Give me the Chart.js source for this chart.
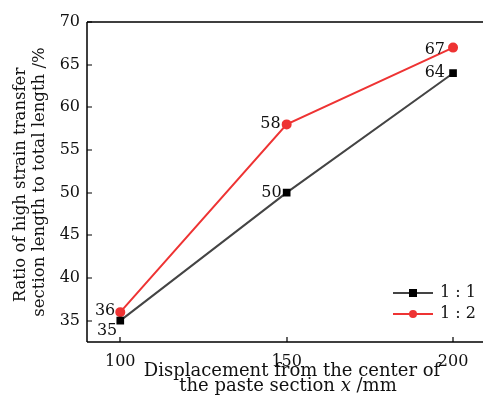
<!DOCTYPE html>
<html><head><meta charset="utf-8">
<script src="https://cdn.jsdelivr.net/npm/chart.js@4/dist/chart.umd.min.js"></script>
<style>html,body{margin:0;padding:0;background:#fff;overflow:hidden}canvas{display:block}</style>
</head><body>
<canvas id="c" width="483" height="408"></canvas>
<script>
const categories = [100, 150, 200];
const series11 = [35, 50, 64];
const series12 = [36, 58, 67];
const seriesNames = ['1 : 1', '1 : 2'];
const xTicks = [100, 150, 200];
const yTicks = [35, 40, 45, 50, 55, 60, 65, 70];
const yTitle = ['Ratio of high strain transfer', 'section length to total length /%'];
const xTitle1 = 'Displacement from the center of';
const xTitle2 = ['the paste section ', 'x', ' /mm'];

const FONT = '"DejaVu Serif", "Liberation Serif", serif';
const BLACK = '#444444';
const RED = '#ee3333';
const TXT = '#111';

const frame = {
  id: 'frame',
  afterDraw(chart) {
    const {ctx, chartArea: a, scales} = chart;
    ctx.save();
    ctx.strokeStyle = '#000'; ctx.lineWidth = 1.5;
    ctx.beginPath();
    ctx.moveTo(a.left, a.top); ctx.lineTo(a.right, a.top);
    ctx.moveTo(a.left, a.top); ctx.lineTo(a.left, a.bottom);
    ctx.moveTo(a.left, a.bottom); ctx.lineTo(a.right, a.bottom);
    ctx.stroke();
    ctx.lineWidth = 1.2;
    ctx.beginPath();
    yTicks.forEach(v => { const y = Math.round(scales.y.getPixelForValue(v)); ctx.moveTo(a.left, y); ctx.lineTo(a.left + 5, y); });
    xTicks.forEach(v => { const x = Math.round(scales.x.getPixelForValue(v)); ctx.moveTo(x, a.bottom); ctx.lineTo(x, a.bottom - 5); });
    ctx.stroke();
    // data labels
    ctx.fillStyle = TXT;
    ctx.font = '16px ' + FONT;
    ctx.textAlign = 'right'; ctx.textBaseline = 'middle';
    const offs = [
      [[-3, 10], [-5, 0], [-8, 0]],
      [[-5, -1], [-6, -1], [-8, 2]]
    ];
    [series11, series12].forEach((s, si) => {
      s.forEach((v, i) => {
        const x = scales.x.getPixelForValue(categories[i]);
        const y = scales.y.getPixelForValue(v);
        ctx.fillText(String(v), x + offs[si][i][0], y + offs[si][i][1]);
      });
    });
    // legend
    const items = [[seriesNames[0], BLACK, '#000', 'rect'], [seriesNames[1], RED, RED, 'circle']];
    items.forEach((it, k) => {
      const y = 293 + k * 21, x0 = 393, x1 = 433;
      ctx.strokeStyle = it[1]; ctx.lineWidth = 2;
      ctx.beginPath(); ctx.moveTo(x0, y); ctx.lineTo(x1, y); ctx.stroke();
      ctx.fillStyle = it[2];
      if (it[3] === 'rect') ctx.fillRect(409, y - 4, 8, 8);
      else { ctx.beginPath(); ctx.arc(413, y, 4, 0, Math.PI * 2); ctx.fill(); }
      ctx.fillStyle = TXT; ctx.textAlign = 'left'; ctx.textBaseline = 'middle';
      ctx.fillText(it[0], 440, y);
    });
    // x title
    ctx.fillStyle = TXT; ctx.textBaseline = 'alphabetic'; ctx.textAlign = 'left';
    ctx.font = '18px ' + FONT;
    const w1 = ctx.measureText(xTitle1).width;
    ctx.fillText(xTitle1, 292 - w1 / 2, 376);
    const fonts2 = ['18px ' + FONT, 'italic 18px ' + FONT, '18px ' + FONT];
    let tot = 0;
    xTitle2.forEach((t, i) => { ctx.font = fonts2[i]; tot += ctx.measureText(t).width; });
    let cx = 288 - tot / 2;
    xTitle2.forEach((t, i) => { ctx.font = fonts2[i]; ctx.fillText(t, cx, 391); cx += ctx.measureText(t).width; });
    // y title
    ctx.rotate(-Math.PI / 2);
    ctx.textAlign = 'center';
    ctx.font = '16.5px ' + FONT;
    ctx.fillText(yTitle[0], -185, 25);
    ctx.fillText(yTitle[1], -182, 44);
    ctx.restore();
  }
};

new Chart(document.getElementById('c'), {
  type: 'line',
  data: {
    datasets: [
      { label: seriesNames[0], data: categories.map((c, i) => ({x: c, y: series11[i]})),
        borderColor: BLACK, backgroundColor: '#000', pointStyle: 'rect', pointRadius: 4,
        pointBackgroundColor: '#000', pointBorderColor: '#000', borderWidth: 2, tension: 0 },
      { label: seriesNames[1], data: categories.map((c, i) => ({x: c, y: series12[i]})),
        borderColor: RED, backgroundColor: RED, pointStyle: 'circle', pointRadius: 4,
        pointBackgroundColor: RED, pointBorderColor: RED, borderWidth: 2, tension: 0 }
    ]
  },
  options: {
    responsive: false, animation: false, devicePixelRatio: 1,
    layout: { autoPadding: false, padding: { top: 22, right: 0, left: 0, bottom: 0 } },
    plugins: { legend: { display: false }, tooltip: { enabled: false } },
    scales: {
      x: {
        type: 'linear', min: 90, max: 209,
        afterBuildTicks: s => { s.ticks = xTicks.map(v => ({value: v})); },
        afterFit: s => { s.height = 66; s.paddingRight = 0; s.paddingLeft = 0; },
        grid: { display: false, drawTicks: false },
        border: { display: false },
        ticks: { padding: 10, color: TXT, maxRotation: 0, font: { family: FONT, size: 16 } },
        title: { display: false }
      },
      y: {
        type: 'linear', min: 32.5, max: 70,
        afterBuildTicks: s => { s.ticks = yTicks.map(v => ({value: v})); },
        afterFit: s => { s.width = 87; s.paddingTop = 0; s.paddingBottom = 0; },
        grid: { display: false, drawTicks: false },
        border: { display: false },
        ticks: { padding: 7, color: TXT, font: { family: FONT, size: 16 } },
        title: { display: false }
      }
    }
  },
  plugins: [frame]
});
</script>
</body></html>
